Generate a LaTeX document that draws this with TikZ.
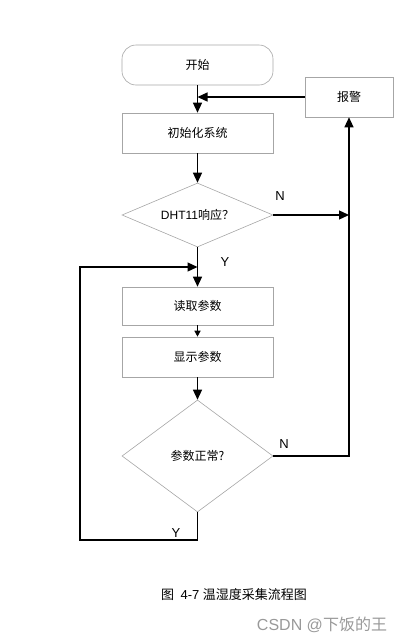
\documentclass[tikz,border=0pt]{standalone}
\usepackage{fontspec}
\setmainfont{Liberation Sans}
\newfontfamily\cjk{Noto Sans CJK SC}
\usetikzlibrary{shapes.geometric,arrows.meta}
\begin{document}
\begin{tikzpicture}[x=1pt,y=-1pt,
  box/.style={draw=black!35,line width=0.6pt,minimum width=151pt,minimum height=40pt,inner sep=0pt,font=\cjk\fontsize{12}{14}\selectfont},
  dia/.style={draw=black!35,line width=0.6pt,diamond,inner sep=0pt,minimum width=151pt,font=\fontsize{12}{14}\selectfont},
  conn/.style={line width=1.3pt,-{Triangle[length=10pt,width=9pt]}},
  lbl/.style={font=\fontsize{13}{15}\selectfont}]
\useasboundingbox (0,0) rectangle (405,643);
\node[box,rounded corners=14pt] (start) at (197.5,65) {开始};
\node[box,minimum width=88pt] (alarm) at (349,97) {报警};
\node[box] (init) at (197.5,133) {初始化系统};
\node[dia,aspect=2.36,minimum height=64pt] (d1) at (197.5,215) {DHT11{\cjk 响应？}};
\node[box,minimum height=38pt] (read) at (197.5,306) {读取参数};
\node[box] (show) at (197.5,357) {显示参数};
\node[dia,aspect=1.35,minimum height=112pt] (d2) at (197.5,456) {\cjk 参数正常?};
\coordinate (j1) at (alarm |- d1.east);
\coordinate (lb) at (80,540);
\coordinate (lt) at (80,267);
\coordinate (j2) at (197.5,267);
\draw[conn] (start) -- (init);
\draw[conn] (alarm.west) -- (alarm.west -| start);
\draw[conn] (init) -- (d1);
\draw[conn] (d1.east) -- (j1);
\draw[conn] (d2.east) -| (alarm.south);
\draw[conn] (d1.south) -- (read.north);
\draw[conn] (d2.south) |- (lb) -- (lt) -- (j2);
\draw[line width=1.3pt,-{Triangle[length=6pt,width=6pt]}] (read) -- (show);
\draw[conn] (show) -- (d2);
\node[lbl] (n1) at (280,196) {N};
\node[lbl] (y1) at (225,262) {Y};
\node[lbl] (n2) at (284,444) {N};
\node[lbl] (y2) at (176,533) {Y};
\node[font=\fontsize{13}{15}\selectfont] (cap) at (234,595) {{\cjk 图}\enspace 4-7 {\cjk 温湿度采集流程图}};
\node[font=\fontsize{16}{18}\selectfont,text=black!40] (wm) at (322,625) {CSDN @{\cjk 下饭的王}};
\end{tikzpicture}
\end{document}
